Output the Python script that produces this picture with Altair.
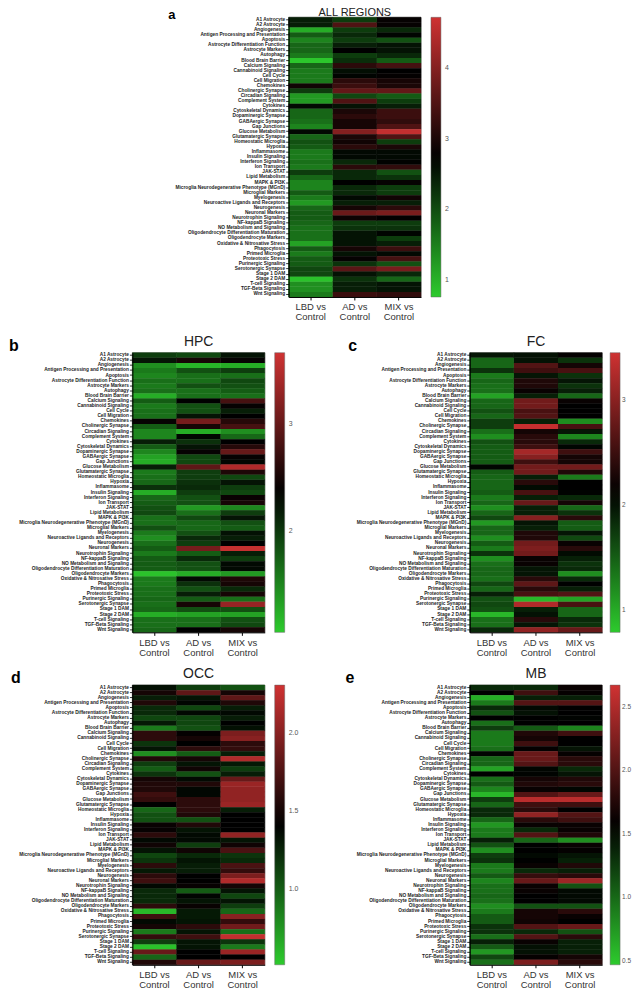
import altair as alt
import pandas as pd

pathways = ["A1 Astrocyte","A2 Astrocyte","Angiogenesis","Antigen Processing and Presentation","Apoptosis",
"Astrocyte Differentiation Function","Astrocyte Markers","Autophagy","Blood Brain Barrier","Calcium Signaling",
"Cannabinoid Signaling","Cell Cycle","Cell Migration","Chemokines","Cholinergic Synapse","Circadian Signaling",
"Complement System","Cytokines","Cytoskeletal Dynamics","Dopaminergic Synapse","GABAergic Synapse","Gap Junctions",
"Glucose Metabolism","Glutamatergic Synapse","Homeostatic Microglia","Hypoxia","Inflammasome","Insulin Signaling",
"Interferon Signaling","Ion Transport","JAK-STAT","Lipid Metabolism","MAPK & PI3K",
"Microglia Neurodegenerative Phenotype (MGnD)","Microglial Markers","Myelogenesis",
"Neuroactive Ligands and Receptors","Neurogenesis","Neuronal Markers","Neurotrophin Signaling","NF-kappaB Signaling",
"NO Metabolism and Signaling","Oligodendrocyte Differentiation Maturation","Oligodendrocyte Markers",
"Oxidative & Nitrosative Stress","Phagocytosis","Primed Microglia","Proteotoxic Stress","Purinergic Signaling",
"Serotonergic Synapse","Stage 1 DAM","Stage 2 DAM","T-cell Signaling","TGF-Beta Signaling","Wnt Signaling"]
comparisons = ["LBD vs|Control","AD vs|Control","MIX vs|Control"]

a_lbd = [2.45,2.45,1.05,1.85,1.45,1.75,1.75,1.55,0.8,1.75,1.55,1.55,1.55,2.9,2.15,1.25,1.25,2.65,1.75,1.75,1.65,1.45,2.65,1.75,1.95,1.85,1.55,1.55,1.65,1.55,2.15,1.75,1.45,1.45,1.85,1.55,1.25,1.75,1.85,1.85,1.75,1.65,1.65,1.65,1.15,1.85,1.55,1.85,1.85,2.05,2.05,0.85,1.35,1.35,1.55]
a_ad = [2.15,3.5,2.15,2.35,2.15,2.45,2.74,2.15,2.3,3.15,2.6,2.7,3.15,3.3,3.7,2.05,3.5,2.55,3.0,3.15,2.95,2.95,4.0,3.0,2.9,3.15,2.65,2.65,2.35,3.15,2.35,2.35,2.74,2.35,2.35,2.65,2.45,2.95,3.75,2.85,2.15,2.25,2.55,2.55,2.55,2.95,2.55,2.8,2.25,3.6,2.55,2.25,2.45,2.45,3.3]
a_mix = [2.8,2.8,2.35,2.7,1.95,2.55,2.55,2.35,1.85,3.4,2.74,2.78,2.95,3.0,3.7,1.85,2.15,2.45,3.3,3.3,3.2,3.5,4.6,3.5,2.15,3.0,2.65,2.65,2.72,3.2,1.95,2.25,2.8,2.15,2.15,2.9,2.45,3.15,3.9,2.75,2.15,2.25,2.7,2.15,2.45,3.3,2.65,3.4,1.95,3.9,2.35,1.75,2.55,2.55,3.2]

b_lbd = [1.97,2.23,1.45,1.58,1.5,1.65,1.58,1.65,1.25,1.77,1.58,1.65,1.65,2.4,1.77,1.5,1.5,2.17,1.77,1.5,1.32,1.25,2.17,1.58,1.65,1.7,2.05,1.25,1.7,1.77,1.85,1.9,1.65,1.65,1.85,1.58,1.45,1.65,1.77,1.58,1.77,1.77,1.77,1.12,1.58,1.58,1.65,1.65,1.7,1.65,1.7,1.25,1.65,1.65,1.7]
b_ad = [1.9,2.5,1.2,1.85,1.65,1.65,1.85,1.65,1.65,2.36,1.85,1.85,2.23,3.1,2.5,1.25,2.32,2.05,2.23,2.4,1.9,1.9,2.95,1.97,1.97,2.05,2.1,1.97,1.85,1.85,1.38,1.65,1.9,1.7,1.7,1.85,2.1,1.97,3.1,1.77,2.1,1.85,1.85,1.25,2.3,2.05,1.85,2.17,1.77,2.5,1.85,1.32,1.65,1.65,2.36]
b_mix = [2.23,2.4,1.25,1.97,1.65,1.9,1.85,1.77,1.65,2.8,2.4,2.17,2.36,2.6,2.8,1.45,1.7,2.36,2.6,3.0,2.4,2.32,3.45,2.55,1.9,2.23,1.97,1.9,2.42,2.5,1.5,1.97,2.23,1.85,1.77,2.25,2.17,2.36,3.6,2.17,1.97,2.3,2.3,1.38,2.55,2.5,2.1,2.5,1.65,3.3,1.85,1.32,1.85,1.9,2.5]

c_lbd = [1.98,1.45,1.45,1.79,1.32,1.45,1.39,1.39,1.06,1.45,1.45,1.59,1.45,1.72,1.72,1.39,1.19,1.59,1.52,1.52,1.52,1.52,2.08,1.52,1.45,1.45,1.45,1.52,1.32,1.45,1.19,1.45,1.65,1.12,1.45,1.45,1.19,1.52,1.32,1.79,1.19,1.39,1.45,1.45,1.39,1.65,1.45,1.92,1.59,1.65,1.59,0.92,1.39,1.39,1.85]
c_ad = [2.0,2.0,2.65,2.52,1.98,2.32,2.32,2.18,1.92,2.85,2.85,2.58,2.65,1.92,3.38,2.25,2.38,2.38,2.52,3.18,2.98,2.52,2.85,2.85,1.92,2.38,2.05,2.58,1.92,2.78,1.92,1.92,2.98,1.98,1.92,2.32,2.32,2.85,2.92,2.85,2.18,2.18,1.98,1.98,2.38,2.72,2.38,2.58,0.92,3.25,1.92,2.0,2.38,1.98,3.05]
c_mix = [2.15,1.79,2.25,2.58,1.79,1.98,1.79,1.92,1.45,2.18,2.12,2.12,2.12,1.19,2.58,1.98,1.25,1.85,2.08,2.52,2.25,2.25,2.85,2.32,1.32,2.12,2.12,2.1,1.85,2.25,1.45,1.79,2.38,1.52,1.52,1.98,1.65,2.18,2.38,2.05,1.92,1.79,1.85,1.19,1.85,2.12,1.92,2.65,1.05,2.58,1.45,1.45,1.85,1.79,2.78]

d_lbd = [1.34,1.5,1.28,1.55,1.23,1.23,1.1,1.3,0.87,1.6,1.6,1.18,1.32,0.78,1.55,1.14,1.0,1.18,1.5,1.55,1.55,1.68,1.63,1.41,0.96,1.05,1.05,1.45,1.44,1.6,1.37,1.48,1.32,1.1,1.18,1.6,1.3,1.6,1.68,1.37,1.23,1.23,1.23,1.6,0.6,1.68,1.37,1.5,0.87,1.63,1.14,0.56,1.86,0.96,1.55]
d_ad = [1.14,1.82,1.32,1.39,1.1,1.37,1.1,1.1,1.05,1.43,1.5,1.41,1.6,1.0,1.5,1.32,1.48,1.05,1.37,1.55,1.38,1.38,1.6,1.6,1.6,1.55,1.05,1.55,1.32,1.37,1.37,1.14,1.48,1.23,1.32,1.28,1.28,1.41,1.41,1.44,1.0,1.39,1.32,1.45,1.3,1.3,1.32,1.6,1.32,1.68,1.32,1.32,1.41,1.41,1.86]
d_mix = [1.05,1.5,1.82,1.55,1.28,1.37,1.28,1.41,1.34,1.95,2.0,1.6,1.63,1.28,2.18,1.3,1.14,1.28,1.86,2.08,2.04,2.04,2.04,2.08,1.28,1.41,1.41,1.41,1.41,2.04,1.32,1.48,1.73,1.18,1.23,1.73,1.63,1.95,2.18,1.5,1.32,1.1,1.32,1.14,0.96,2.0,1.63,1.9,0.92,2.26,1.18,0.87,2.08,1.41,1.95]

e_lbd = [1.35,1.57,0.63,0.91,1.35,1.13,1.57,0.97,1.24,0.91,0.91,0.91,0.97,1.55,1.02,1.02,0.69,1.57,0.97,1.08,0.85,0.58,1.24,1.02,1.35,1.35,1.02,0.75,0.91,0.91,1.4,1.13,0.8,1.24,1.3,0.91,0.91,1.08,0.85,0.97,0.97,1.02,0.97,0.8,0.91,1.08,1.08,1.3,1.3,0.97,1.4,1.08,0.75,1.19,0.97]
e_ad = [1.35,1.9,1.4,2.01,1.52,1.48,1.57,1.57,1.08,1.74,1.68,1.9,1.59,2.12,2.12,2.01,1.54,1.55,1.68,1.74,1.62,2.01,2.56,1.9,1.79,2.34,1.79,1.62,1.35,2.01,1.02,1.57,1.57,1.52,1.57,1.62,1.35,1.85,2.12,1.62,1.62,1.57,1.57,1.13,1.68,1.68,1.66,2.01,1.35,2.01,1.62,1.48,1.48,1.6,2.23]
e_mix = [1.62,1.6,1.4,2.01,1.57,1.57,1.55,1.57,0.85,1.9,1.57,1.57,1.46,1.6,1.79,1.79,1.35,1.46,1.74,1.79,1.54,2.12,2.56,1.9,1.57,2.01,1.9,1.62,1.62,1.74,0.8,1.62,1.59,1.46,1.4,1.74,1.4,1.79,2.4,1.13,1.52,1.52,1.52,1.13,1.79,1.62,1.57,2.12,1.13,1.79,1.4,1.4,1.4,1.68,1.79]

GREEN, BLACK, RED = "#2dcb2d", "#000000", "#cf3232"
FONT = "Liberation Sans"


def panel(title, letter, letter_x, title_size, title_y, letter_y, letter_size, columns, domain, ticks, fmt,
          leg_offset=10, lab_offset=4, lab_size=7):
    rows = []
    for name, col in zip(comparisons, columns):
        for p, v in zip(pathways, col):
            rows.append({"pathway": p, "comparison": name, "value": v})
    df = pd.DataFrame(rows)
    color_scale = alt.Scale(domain=domain, range=[GREEN, BLACK, RED], interpolate="rgb", clamp=True)
    x_enc = alt.X("comparison:N", sort=comparisons, title=None,
                  scale=alt.Scale(paddingInner=0, paddingOuter=0, round=False),
                  axis=alt.Axis(labelAngle=0, labelFont=FONT, labelFontSize=9.5, labelColor="#333333",
                                labelExpr="split(datum.label, '|')", labelLineHeight=10, labelPadding=2,
                                tickSize=3, tickColor="#000000", domainColor="#000000", labelBaseline="top"))
    y_enc = alt.Y("pathway:N", sort=pathways, title=None,
                  scale=alt.Scale(paddingInner=0, paddingOuter=0, round=False),
                  axis=alt.Axis(labelFont=FONT, labelFontSize=4.8, labelFontWeight="bold", labelColor="#222222",
                                labelOverlap=False, labelLimit=0, labelPadding=1, tickSize=3, tickWidth=0.8,
                                tickColor="#000000", domainColor="#000000"))
    seam = alt.Chart(df).mark_rect(filled=False, strokeWidth=0.5).encode(
        x=x_enc, y=y_enc, stroke=alt.Stroke("value:Q", scale=color_scale, legend=None))
    heat = alt.Chart(df).mark_rect().encode(
        x=x_enc, y=y_enc,
        color=alt.Color("value:Q", title=None, scale=color_scale,
                        legend=alt.Legend(type="gradient", orient="right", offset=leg_offset, padding=0,
                                          gradientLength=281, gradientThickness=10,
                                          gradientStrokeColor="#666666", gradientStrokeWidth=0.5,
                                          values=ticks, format=fmt, labelFont=FONT, labelFontSize=lab_size,
                                          labelColor="#555555", labelOffset=lab_offset)),
    )
    ttl = alt.Chart(pd.DataFrame({"t": [title]})).mark_text(
        font=FONT, fontSize=title_size, color="#222222", baseline="alphabetic", align="center").encode(
        text="t:N", x=alt.value(66.5), y=alt.value(title_y))
    let = alt.Chart(pd.DataFrame({"t": [letter]})).mark_text(
        font=FONT, fontSize=letter_size, fontWeight="bold", color="#000000", baseline="alphabetic", align="left").encode(
        text="t:N", x=alt.value(letter_x), y=alt.value(letter_y))
    return alt.layer(seam, heat, ttl, let).resolve_scale(color="independent", stroke="independent").properties(width=133, height=281)


def blank(w, h):
    return alt.Chart(pd.DataFrame({"v": [0]})).mark_point(opacity=0, size=1).encode(
        x=alt.value(1), y=alt.value(1)).properties(width=w, height=h, view=alt.ViewConfig(stroke=None))


pa = panel("ALL REGIONS", "a", -121, 11, -1, 1.5, 13, [a_lbd, a_ad, a_mix], [0.76, 2.74, 4.72], [1, 2, 3, 4], ".0f")
pb = panel("HPC", "b", -124, 14, -7, -2, 16, [b_lbd, b_ad, b_mix], [1.06, 2.36, 3.66], [2, 3], ".0f")
pc = panel("FC", "c", -122, 14, -7, -2, 16, [c_lbd, c_ad, c_mix], [0.79, 2.12, 3.45], [1, 2, 3], ".0f",
           leg_offset=8, lab_offset=2, lab_size=6.5)
pd_ = panel("OCC", "d", -122, 14, -7, -2, 16, [d_lbd, d_ad, d_mix], [0.51, 1.41, 2.31], [1.0, 1.5, 2.0], ".1f")
pe = panel("MB", "e", -125, 14, -7, -2, 16, [e_lbd, e_ad, e_mix], [0.47, 1.57, 2.67], [0.5, 1.0, 1.5, 2.0, 2.5], ".1f",
           leg_offset=8, lab_offset=2, lab_size=6.5)

chart = alt.concat(
    blank(133, 284), pa, blank(133, 284),
    pb, blank(158, 281), pc,
    pd_, blank(158, 281), pe,
    columns=3, spacing={"row": 53, "column": 24}, bounds="flush",
).resolve_scale(color="independent", stroke="independent").properties(
    padding={"top": -4, "left": 0, "right": 0, "bottom": 0}, background="white"
).configure_view(stroke="#333333", strokeWidth=0.5)

chart.save("out.html", embed_options={"renderer": "svg", "actions": False})
